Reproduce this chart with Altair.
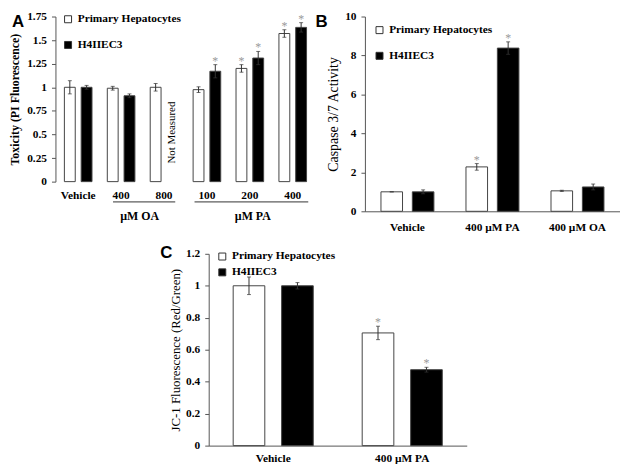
import altair as alt
import pandas as pd

SERIF = "Liberation Serif"
SANS = "Liberation Sans"
series = ["Primary Hepatocytes", "H4IIEC3"]
fills = ["white", "black"]

# ---------------- Panel A : toxicity (PI fluorescence)
a_keys = ["Vehicle", "OA400", "OA800", "PA100", "PA200", "PA400"]
a_labels = ["Vehicle", "400", "800", "100", "200", "400"]
a_ph = [1.00, 0.99, 1.00, 0.975, 1.20, 1.57]
a_ph_err = [0.07, 0.02, 0.04, 0.03, 0.04, 0.04]
a_ph_star = [False, False, False, False, True, True]
a_h4 = [1.00, 0.91, None, 1.17, 1.31, 1.635]
a_h4_err = [0.02, 0.02, None, 0.07, 0.07, 0.05]
a_h4_star = [False, False, False, True, True, True]
a_groups = ["µM OA", "µM PA"]
# extent of each group's underline, in category slots (category i spans [i, i+1])
a_group_from = [1.3, 3.2]
a_group_to = [2.75, 5.85]

# ---------------- Panel B : caspase 3/7 activity
b_keys = ["Vehicle", "400 µM PA", "400 µM OA"]
b_ph = [1.00, 2.28, 1.05]
b_ph_err = [0.0, 0.17, 0.03]
b_ph_star = [False, True, False]
b_h4 = [1.00, 8.38, 1.25]
b_h4_err = [0.10, 0.32, 0.15]
b_h4_star = [False, True, False]

# ---------------- Panel C : JC-1 fluorescence
c_keys = ["Vehicle", "400 µM PA"]
c_ph = [1.00, 0.705]
c_ph_err = [0.055, 0.042]
c_ph_star = [False, True]
c_h4 = [1.00, 0.475]
c_h4_err = [0.02, 0.015]
c_h4_star = [False, True]


def long_df(keys, ph, ph_err, ph_star, h4, h4_err, h4_star):
    rows = []
    for name, vals, errs, stars in [(series[0], ph, ph_err, ph_star), (series[1], h4, h4_err, h4_star)]:
        for k, v, e, s in zip(keys, vals, errs, stars):
            if v is None:
                continue
            rows.append(dict(cat=k, series=name, value=v, lo=v - e, hi=v + e, star="*" if s else ""))
    return pd.DataFrame(rows)


def panel(df, keys, labels, ymax, yvalues, ytitle, tweight, tsize, tpad,
          x_po, xo_pi, xo_po, domain, leg_x, leg_y, row_pad, letter, let_x, let_y, lab_pad):
    if labels is None:
        label_expr = "datum.value"
    else:
        label_expr = "[" + ",".join("'%s'" % l for l in labels) + "][indexof([" + ",".join(
            "'%s'" % k for k in keys) + "], datum.value)]"
    x = alt.X("cat:N", sort=keys,
              scale=alt.Scale(domain=keys, paddingInner=0, paddingOuter=x_po),
              axis=alt.Axis(title=None, labelAngle=0, ticks=False, domain=domain,
                            domainColor="#555", labelExpr=label_expr, labelFont=SERIF,
                            labelFontWeight="bold", labelFontSize=11.5, labelColor="black",
                            labelPadding=lab_pad))
    xo = alt.XOffset("series:N", sort=series,
                     scale=alt.Scale(domain=series, paddingInner=xo_pi, paddingOuter=xo_po))
    yscale = alt.Scale(domain=[0, ymax], nice=False)
    yaxis = alt.Axis(values=yvalues, labelExpr="'' + datum.value", grid=False, tickSize=4,
                     labelOverlap=False,
                     tickColor="#555", domainColor="#555", labelFont=SERIF,
                     labelFontWeight="bold", labelFontSize=11.5, labelColor="black",
                     labelPadding=5, title=ytitle, titleFont=SERIF,
                     titleFontWeight=tweight, titleFontSize=tsize, titleColor="black",
                     titlePadding=tpad)

    def Y(f):
        return alt.Y(f, scale=yscale, axis=yaxis)

    base = alt.Chart(df)
    bars = base.mark_bar(stroke="#444", strokeWidth=1).encode(
        x=x, xOffset=xo, y=Y("value:Q"),
        fill=alt.Fill("series:N", sort=series,
                      scale=alt.Scale(domain=series, range=fills),
                      legend=alt.Legend(title=None, orient="none", legendX=leg_x, legendY=leg_y,
                                        direction="vertical", symbolType="square",
                                        symbolSize=50, symbolStrokeColor="#333",
                                        symbolStrokeWidth=1, labelFont=SERIF,
                                        labelFontWeight="bold", labelFontSize=11.5,
                                        labelColor="black", rowPadding=row_pad,
                                        labelOffset=4, padding=0)))
    err = base.mark_rule(color="#333", strokeWidth=1).encode(
        x=x, xOffset=xo, y=Y("lo:Q"), y2="hi:Q")
    cap_hi = base.mark_tick(color="#333", size=4, thickness=1, orient="horizontal").encode(
        x=x, xOffset=xo, y=Y("hi:Q"))
    cap_lo = base.mark_tick(color="#333", size=4, thickness=1, orient="horizontal").encode(
        x=x, xOffset=xo, y=Y("lo:Q"))
    stars = base.mark_text(color="#999", font=SERIF, fontSize=12, baseline="middle", dy=-4).encode(
        x=x, xOffset=xo, y=Y("hi:Q"), text="star:N")
    let = alt.Chart(pd.DataFrame({"t": [letter]})).mark_text(
        font=SANS, fontWeight="bold", fontSize=17, align="left", baseline="top").encode(
        text="t:N", x=alt.value(let_x), y=alt.value(let_y))
    layers = [bars, err, cap_hi, cap_lo, stars, let]
    return layers, x, xo, Y


# Panel A
dfa = long_df(a_keys, a_ph, a_ph_err, a_ph_star, a_h4, a_h4_err, a_h4_star)
HA, WA = 167, 263
YMAX_A = 1.75
X_PO_A = 0.03
la, xa, xoa, Ya = panel(dfa, a_keys, a_labels, YMAX_A, [0, 0.25, 0.5, 0.75, 1, 1.25, 1.5, 1.75],
                        "Toxicity (PI Fluorescence)", "bold", 12, 5, X_PO_A, 0.353, 0.456, False,
                        7, -3, 13, "A", -44, -2, 8)
nm = alt.Chart(pd.DataFrame({"cat": ["OA800"], "series": ["H4IIEC3"], "value": [0.52],
                             "t": ["Not Measured"]})).mark_text(
    angle=270, font=SERIF, fontSize=11, color="black", baseline="middle").encode(
    x=xa, xOffset=xoa, y=Ya("value:Q"), text="t:N")
grp = pd.DataFrame({"g": a_groups, "start": ["OA400", "PA200"]})
glab_oa = alt.Chart(grp.iloc[[0]]).mark_text(
    font=SERIF, fontWeight="bold", fontSize=12, color="black", baseline="middle", dx=-3).encode(
    x=alt.X("start:N", bandPosition=1.0), y=alt.value(HA + 35), text="g:N")
glab_pa = alt.Chart(grp.iloc[[1]]).mark_text(
    font=SERIF, fontWeight="bold", fontSize=12, color="black", baseline="middle", dx=3).encode(
    x=alt.X("start:N", bandPosition=0.5), y=alt.value(HA + 35), text="g:N")

# group underlines drawn as the domain line of an extra bottom axis spanning the group
step_a = WA / (len(a_keys) + 2 * X_PO_A)
ul_layers = []
for g, f, t in zip(a_groups, a_group_from, a_group_to):
    px0, px1 = (f + X_PO_A) * step_a, (t + X_PO_A) * step_a
    ul_layers.append(
        alt.Chart(pd.DataFrame({"s": [f, t], "yy": [0.0, 0.0]})).mark_point(opacity=0, size=1).encode(
            x=alt.X("s:Q", scale=alt.Scale(domain=[f, t], range=[px0, px1], nice=False, zero=False),
                    axis=alt.Axis(orient="bottom", offset=20, domain=True, domainColor="#333",
                                  domainWidth=1, ticks=False, labels=False, grid=False, title=None)),
            y=Ya("yy:Q")))
chart_a = alt.layer(alt.layer(*la, nm, glab_oa, glab_pa), *ul_layers).resolve_scale(
    x="independent").properties(width=WA, height=HA)

# Panel B
dfb = long_df(b_keys, b_ph, b_ph_err, b_ph_star, b_h4, b_h4_err, b_h4_star)
HB, WB = 197, 258
lb, _, _, _ = panel(dfb, b_keys, None, 10, [0, 2, 4, 6, 8, 10],
                    "Caspase 3/7 Activity", "normal", 14, 4, 0.0, 0.3125, 0.511, True,
                    9, 8, 13, "B", -50, -2, 10)
chart_b = alt.layer(*lb).properties(width=WB, height=HB)

# Panel C
dfc = long_df(c_keys, c_ph, c_ph_err, c_ph_star, c_h4, c_h4_err, c_h4_star)
HC, WC = 194, 261
lc, _, _, _ = panel(dfc, c_keys, None, 1.2, [0, 0.2, 0.4, 0.6, 0.8, 1.0, 1.2],
                    "JC-1 Fluorescence (Red/Green)", "normal", 13, 3, 0.0, 0.347, 0.505, True,
                    8, -3, 3, "C", -49, -9, 7)
chart_c = alt.layer(*lc).properties(width=WC, height=HC)

top = alt.hconcat(chart_a, chart_b, spacing=0).resolve_scale(
    fill="independent", xOffset="independent").resolve_legend(fill="independent")
chart = alt.vconcat(top, chart_c, spacing=11, center=True).resolve_scale(
    fill="independent", xOffset="independent").resolve_legend(fill="independent").properties(
    padding={"left": 0, "top": 0, "right": 0, "bottom": 0}, background="white"
).configure_view(stroke=None)

chart.save("out.html", embed_options={"renderer": "svg", "actions": False})
